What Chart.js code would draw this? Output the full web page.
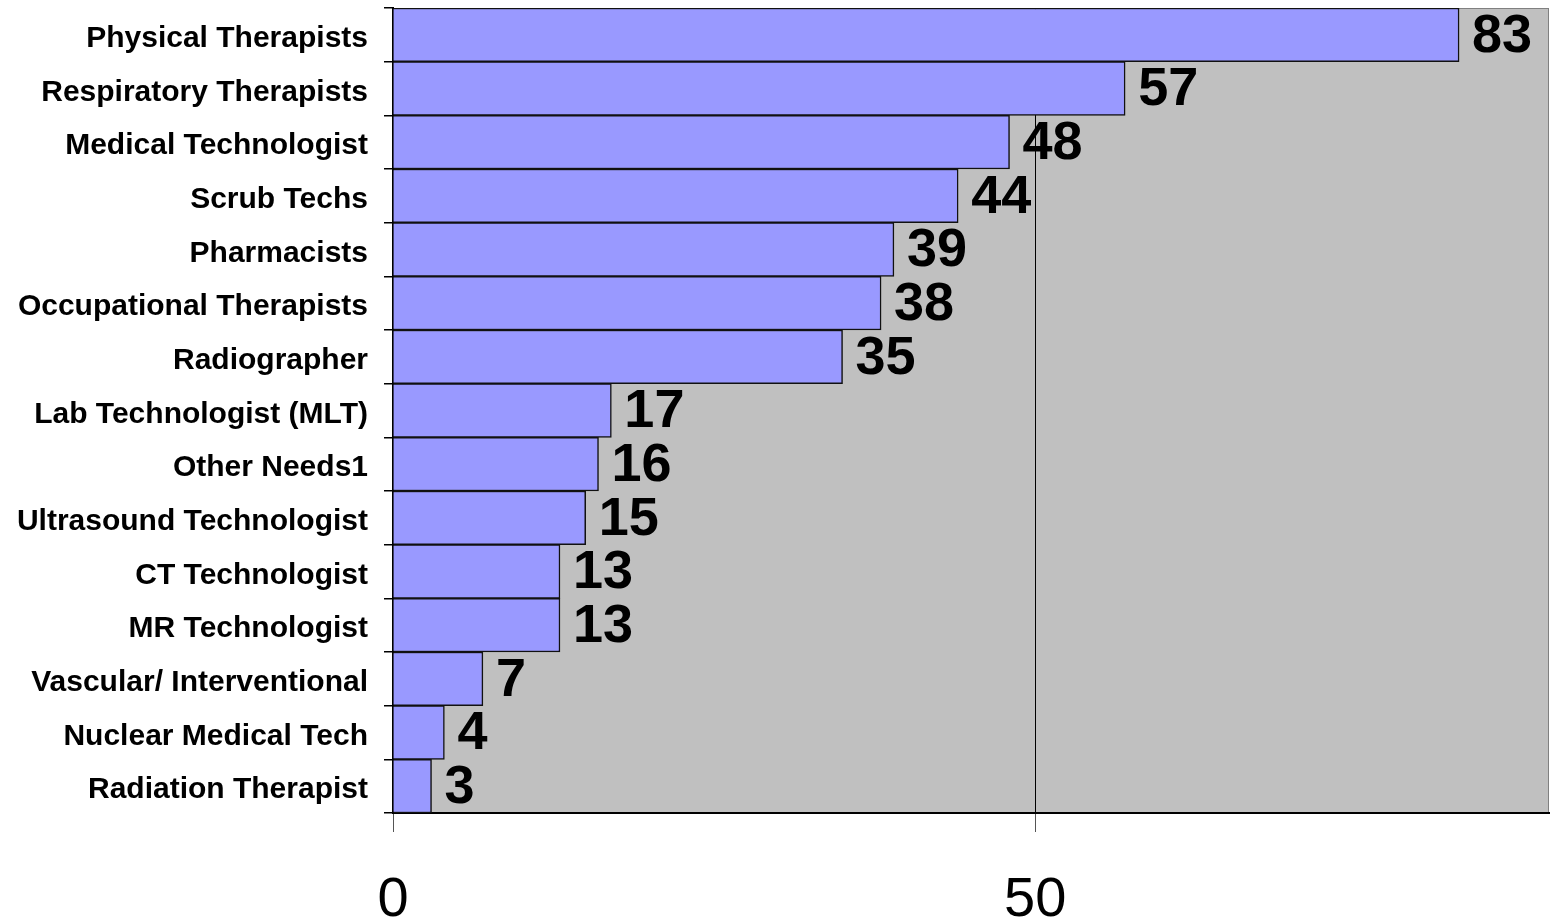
<!DOCTYPE html>
<html>
<head>
<meta charset="utf-8">
<script src="https://cdn.jsdelivr.net/npm/chart.js@4.4.1/dist/chart.umd.min.js"></script>
<style>
  html, body { margin: 0; padding: 0; background: #ffffff; }
  #wrap { width: 1556px; height: 921px; position: relative; }
</style>
</head>
<body>
<div id="wrap"><canvas id="chart"></canvas></div>
<script>
// Professions with reported needs, top to bottom
const categories = [
  'Physical Therapists',
  'Respiratory Therapists',
  'Medical Technologist',
  'Scrub Techs',
  'Pharmacists',
  'Occupational Therapists',
  'Radiographer',
  'Lab Technologist (MLT)',
  'Other Needs1',
  'Ultrasound Technologist',
  'CT Technologist',
  'MR Technologist',
  'Vascular/ Interventional',
  'Nuclear Medical Tech',
  'Radiation Therapist'
];
const counts = [83, 57, 48, 44, 39, 38, 35, 17, 16, 15, 13, 13, 7, 4, 3];
const xTicks = [0, 50];
const xMax = 90;

const FONT = 'Arial, "Liberation Sans", Helvetica, sans-serif';

// Grey plot background with a thin frame
const plotBackground = {
  id: 'plotBackground',
  beforeDraw(chart) {
    const { ctx, chartArea: a } = chart;
    ctx.save();
    ctx.fillStyle = '#c0c0c0';
    ctx.fillRect(a.left, a.top, a.right - a.left, a.bottom - a.top);
    ctx.strokeStyle = '#808080';
    ctx.lineWidth = 1;
    ctx.strokeRect(a.left + 0.5, a.top + 0.5, a.right - a.left - 1, a.bottom - a.top - 1);
    ctx.restore();
  }
};

// Count printed just past the end of each bar
const valueLabels = {
  id: 'valueLabels',
  afterDatasetsDraw(chart) {
    const { ctx } = chart;
    const meta = chart.getDatasetMeta(0);
    ctx.save();
    ctx.fillStyle = '#000';
    ctx.font = 'bold 54px ' + FONT;
    ctx.textAlign = 'left';
    ctx.textBaseline = 'middle';
    meta.data.forEach((bar, i) => {
      ctx.fillText(String(counts[i]), bar.x + 13, bar.y + 2);
    });
    ctx.restore();
  }
};

new Chart(document.getElementById('chart'), {
  type: 'bar',
  data: {
    labels: categories,
    datasets: [{
      data: counts,
      backgroundColor: '#9999ff',
      borderColor: '#111111',
      borderWidth: 1.5,
      barPercentage: 1,
      categoryPercentage: 1
    }]
  },
  options: {
    indexAxis: 'y',
    responsive: true,
    maintainAspectRatio: false,
    animation: false,
    layout: { padding: { top: 8, right: 7, left: 0, bottom: 0 } },
    plugins: {
      legend: { display: false },
      tooltip: { enabled: false }
    },
    scales: {
      x: {
        min: 0,
        max: xMax,
        afterBuildTicks(axis) {
          axis.ticks = xTicks.map(v => ({ value: v }));
        },
        afterFit(axis) {
          axis.height = 921 - 813;
          axis.paddingLeft = 0;
          axis.paddingRight = 0;
        },
        grid: {
          color: '#000',
          lineWidth: 1,
          drawOnChartArea: true,
          drawTicks: true,
          tickLength: 19,
          tickColor: '#555'
        },
        border: { display: true, color: '#000', width: 2 },
        ticks: {
          color: '#000',
          font: { family: FONT, size: 56 },
          padding: 35
        }
      },
      y: {
        afterFit(axis) {
          axis.width = 393;
          axis.paddingTop = 0;
          axis.paddingBottom = 0;
        },
        grid: {
          offset: true,
          drawOnChartArea: false,
          drawTicks: true,
          tickLength: 9,
          color: '#000',
          lineWidth: 1.5
        },
        border: { display: true, color: '#000', width: 2 },
        ticks: {
          color: '#000',
          font: { family: FONT, size: 30, weight: 'bold' },
          padding: 16,
          labelOffset: 4,
          autoSkip: false
        }
      }
    }
  },
  plugins: [plotBackground, valueLabels]
});
</script>
</body>
</html>
